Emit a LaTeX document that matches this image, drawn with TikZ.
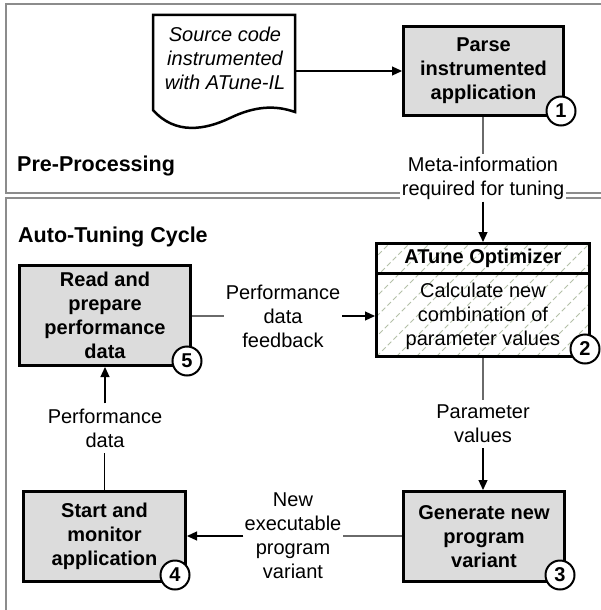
\documentclass[tikz,border=0pt]{standalone}
\usepackage{fontspec}
\setmainfont{Liberation Sans}
\usetikzlibrary{arrows.meta,calc}
\definecolor{boxgray}{HTML}{DCDCDC}
\definecolor{panelgray}{HTML}{8C8C8C}
\definecolor{hatchc}{RGB}{180,192,168}
\definecolor{linegray}{HTML}{6A6A6A}
\tikzset{
 proc/.style={draw, line width=3pt, fill=boxgray, inner sep=0pt, font=\fontsize{20}{24}\selectfont\bfseries, align=center},
 num/.style={circle, draw, line width=2pt, fill=white, minimum size=29pt, inner sep=0pt, font=\fontsize{20}{24}\selectfont\bfseries},
 lbl/.style={font=\fontsize{20}{24}\selectfont, align=center, inner sep=2pt},
 vlbl/.style={lbl, inner xsep=2pt, inner ysep=5pt},
 doclbl/.style={font=\fontsize{20}{24}\selectfont\itshape, align=center, inner sep=0pt},
 panel/.style={draw=panelgray, line width=1.5pt},
 heading/.style={font=\fontsize{21.5}{26}\selectfont\bfseries, anchor=west, inner sep=0pt},
 seg/.style={draw=linegray, line width=1.2pt},
 arr/.style={draw=black, line width=1.2pt, -{Triangle[length=10pt,width=9pt]}},
 hatch/.style={draw=hatchc, line width=1pt, dash pattern=on 5pt off 3pt},
}
\begin{document}
\begin{tikzpicture}[x=1pt,y=-1pt]
\useasboundingbox (0,0) rectangle (601,610);
\fill[white] (0,0) rectangle (601,610);
% panels
\draw[panel] (6,4) rectangle (615,193);
\draw[panel] (6,198) rectangle (615,625);
\node[heading] (pre) at (17,166) {Pre-Processing};
\node[heading] (atc) at (18,237) {Auto-Tuning Cycle};
% document
\draw[line width=2.5pt, fill=white, line join=miter] (153,15) -- (295,15) -- (295,112)
  .. controls (275,105) and (255,106) .. (230,118)
  .. controls (205,130) and (175,135) .. (153,110) -- cycle;
\node[doclbl] (doc) at (225,58) {Source code\\instrumented\\with ATune-IL};
\coordinate (docr) at (295,71);
% step 1
\node[proc, minimum width=160pt, minimum height=89pt] (parse) at (483.5,71) {Parse\\instrumented\\application};
% optimizer
\node[draw, line width=3pt, fill=white, minimum width=213pt, minimum height=113pt, inner sep=0pt,
  path picture={\foreach \k in {-160,-140,...,240} \draw[hatch] ($(path picture bounding box.south west)+(\k pt,0pt)$) -- ++(150pt,150pt);}]
  (opt) at (483,300) {};
\coordinate (divl) at (376.5,273);
\coordinate (divr) at (589.5,273);
\draw[line width=3pt] (divl) -- (divr);
\node[font=\fontsize{20}{24}\selectfont\bfseries, inner sep=0pt] (opth) at (483,258) {ATune Optimizer};
\node[lbl] (optb) at (483,316) {Calculate new\\combination of\\parameter values};
% other steps
\node[proc, minimum width=171pt, minimum height=100pt] (rp) at (105,315.5) {Read and\\prepare\\performance\\data};
\node[proc, minimum width=162pt, minimum height=90pt] (sm) at (104.5,536.5) {Start and\\monitor\\application};
\node[proc, minimum width=161pt, minimum height=90pt] (gen) at (484,536.5) {Generate new\\program\\variant};
% labels
\node[lbl, fill=white] (meta) at (483,178) {Meta-information\\required for tuning};
\node[lbl] (fb) at (283,316) {Performance\\data\\feedback};
\node[vlbl] (pv) at (483,424) {Parameter\\values};
\node[lbl, inner sep=1pt] (nev) at (293,536) {New\\executable\\program\\variant};
\node[vlbl] (pd) at (105,428) {Performance\\data};
% connectors
\draw[arr] (docr) -- (docr -| parse.west);
\draw[seg] (parse.south -| meta.north) -- (meta.north);
\draw[arr] (meta.south) -- (meta.south |- opt.north);
\draw[seg] (rp.east |- fb.west) -- (fb.west);
\draw[arr] (fb.east) -- (fb.east -| opt.west);
\draw[seg] (opt.south) -- (opt.south |- pv.north);
\draw[arr] (pv.south) -- (pv.south |- gen.north);
\draw[seg] (gen.west |- nev.east) -- (nev.east);
\draw[arr] (nev.west) -- (nev.west -| sm.east);
\draw[seg, draw=black] (sm.north) -- (sm.north |- pd.south);
\draw[arr] (pd.north) -- (pd.north |- rp.south);
% numbers
\node[num] (n1) at (561,111) {1};
\node[num] (n2) at (585,349) {2};
\node[num] (n3) at (560,575) {3};
\node[num] (n4) at (175,575) {4};
\node[num] (n5) at (187,361) {5};
\end{tikzpicture}
\end{document}
